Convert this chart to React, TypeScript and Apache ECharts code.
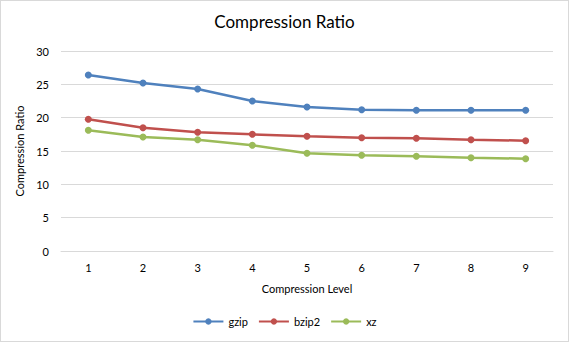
import React, { useEffect, useRef } from "react";
import * as echarts from "echarts";

const levels = ["1", "2", "3", "4", "5", "6", "7", "8", "9"];
const gzip = [26.4, 25.2, 24.3, 22.5, 21.6, 21.2, 21.1, 21.1, 21.1];
const bzip2 = [19.75, 18.5, 17.8, 17.5, 17.2, 17.0, 16.9, 16.7, 16.55];
const xz = [18.1, 17.1, 16.7, 15.85, 14.65, 14.35, 14.2, 14.0, 13.85];

const FONT = "Lato, 'Open Sans', sans-serif";

export default function App() {
  const ref = useRef<HTMLDivElement>(null);
  useEffect(() => {
    document.body.style.margin = "0";
    const chart = echarts.init(ref.current!, undefined, { renderer: "svg" });
    const mk = (name: string, data: number[], color: string) => ({
      name,
      type: "line",
      data,
      symbol: "circle",
      symbolSize: 7,
      itemStyle: { color },
      lineStyle: { color, width: 2.5 },
    });
    chart.setOption({
      animation: false,
      backgroundColor: "#fff",
      textStyle: { fontFamily: FONT },
      title: {
        text: "Compression Ratio",
        left: "center",
        top: 7,
        textStyle: { fontFamily: FONT, fontSize: 17, fontWeight: "normal", color: "#000" },
      },
      legend: {
        bottom: 9,
        left: "center",
        itemWidth: 30,
        itemHeight: 8,
        itemGap: 10,
        textStyle: { fontFamily: FONT, fontSize: 11, color: "#000" },
        data: ["gzip", "bzip2", "xz"],
      },
      grid: { left: 60, right: 15, top: 50, bottom: 90 },
      xAxis: {
        type: "category",
        data: levels,
        boundaryGap: true,
        name: "Compression Level",
        nameLocation: "middle",
        nameGap: 32,
        nameTextStyle: { fontFamily: FONT, fontSize: 11, color: "#000" },
        axisLine: { lineStyle: { color: "#d9d9d9" } },
        axisTick: { show: false },
        axisLabel: { fontFamily: FONT, fontSize: 11, color: "#000", margin: 11 },
      },
      yAxis: {
        type: "value",
        min: 0,
        max: 30,
        interval: 5,
        name: "Compression Ratio",
        nameLocation: "middle",
        nameGap: 25,
        nameTextStyle: { fontFamily: FONT, fontSize: 11, color: "#000" },
        axisLine: { show: false },
        axisTick: { show: false },
        axisLabel: { fontFamily: FONT, fontSize: 11, color: "#000", margin: 12 },
        splitLine: { lineStyle: { color: "#d9d9d9" } },
      },
      series: [
        mk("gzip", gzip, "#4f81bd"),
        mk("bzip2", bzip2, "#c0504d"),
        mk("xz", xz, "#9bbb59"),
      ],
    });
    return () => chart.dispose();
  }, []);
  return (
    <div
      ref={ref}
      style={{
        position: "fixed",
        left: 0,
        top: 0,
        width: 569,
        height: 342,
        boxSizing: "border-box",
        border: "1px solid #d9d9d9",
      }}
    />
  );
}
